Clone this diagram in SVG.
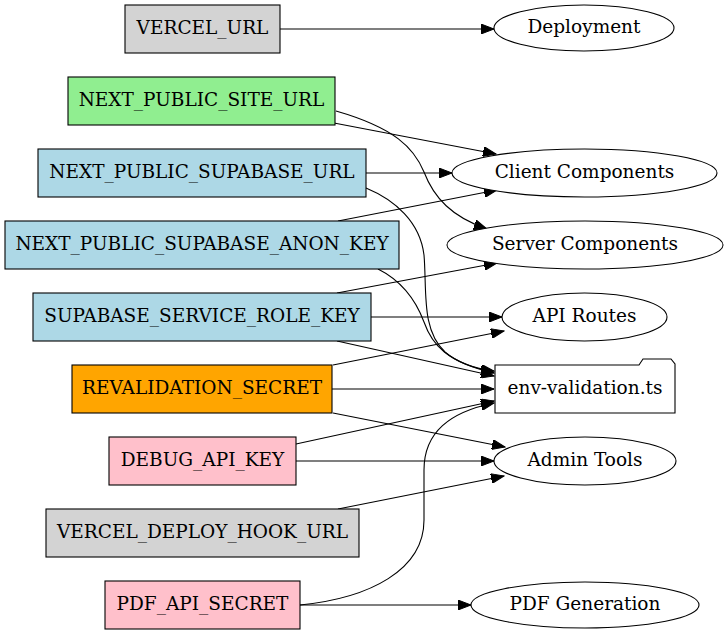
<svg xmlns="http://www.w3.org/2000/svg" width="727" height="635" viewBox="0 0 727 635">
<style>
text{font-family:"DejaVu Serif","Liberation Serif",serif;font-size:18.5px;text-anchor:middle;fill:#000}
.n rect,.n ellipse,.n path{stroke:#000;stroke-width:1.1}
.e path{fill:none;stroke:#000;stroke-width:1.1;marker-end:url(#ah)}
.grey{fill:#d3d3d3}.green{fill:#90ee90}.blue{fill:#add8e6}.orange{fill:#ffa500}.pink{fill:#ffc0cb}.white{fill:#fff}
</style>
<defs>
<marker id="ah" markerUnits="userSpaceOnUse" markerWidth="14" markerHeight="10" refX="13" refY="5" orient="auto">
<path d="M0,0 L13,5 L0,10 Z" fill="#000" stroke="#000" stroke-width="1"/>
</marker>
</defs>
<rect width="727" height="635" fill="#fff"/>
<g class="e" id="edges">
<path d="M280,29 L494,29"/>
<path d="M334,123 L496,154"/>
<path d="M336,111 C395,128 414,148 424,172 C434,198 452,217 487,229"/>
<path d="M366,173 L452,173"/>
<path d="M366,188 C395,200 420,222 424,255 C427,290 421,330 445,352 C460,365 478,369 494,371"/>
<path d="M338,221 L497,190"/>
<path d="M378,269 C400,280 415,298 424,322 C432,345 447,362 494,373"/>
<path d="M337,293 L497,263"/>
<path d="M371,317 L502,317"/>
<path d="M337,341 L494,376"/>
<path d="M333,365 L504,331"/>
<path d="M332,389 L494,389"/>
<path d="M333,413 L505,447"/>
<path d="M296,444 L494,401"/>
<path d="M296,461 L494,461"/>
<path d="M338,509 L504,476"/>
<path d="M300,605 C370,598 424,570 424,520 L424,470 C424,432 450,412 494,403"/>
<path d="M300,605 L471,605"/>
</g>
<g class="n" id="VERCEL_URL"><rect class="grey" x="125" y="5" width="155" height="48"/><text x="202.5" y="34">VERCEL_URL</text></g>
<g class="n" id="NEXT_PUBLIC_SITE_URL"><rect class="green" x="68" y="77" width="267" height="48"/><text x="201.5" y="106">NEXT_PUBLIC_SITE_URL</text></g>
<g class="n" id="NEXT_PUBLIC_SUPABASE_URL"><rect class="blue" x="38" y="149" width="328" height="48"/><text x="202" y="178">NEXT_PUBLIC_SUPABASE_URL</text></g>
<g class="n" id="NEXT_PUBLIC_SUPABASE_ANON_KEY"><rect class="blue" x="5" y="221" width="394" height="48"/><text x="202" y="250">NEXT_PUBLIC_SUPABASE_ANON_KEY</text></g>
<g class="n" id="SUPABASE_SERVICE_ROLE_KEY"><rect class="blue" x="33" y="293" width="338" height="48"/><text x="202" y="322">SUPABASE_SERVICE_ROLE_KEY</text></g>
<g class="n" id="REVALIDATION_SECRET"><rect class="orange" x="72" y="365" width="260" height="48"/><text x="202" y="394">REVALIDATION_SECRET</text></g>
<g class="n" id="DEBUG_API_KEY"><rect class="pink" x="109" y="437" width="187" height="48"/><text x="202.5" y="466">DEBUG_API_KEY</text></g>
<g class="n" id="VERCEL_DEPLOY_HOOK_URL"><rect class="grey" x="46" y="509" width="313" height="48"/><text x="202.5" y="538">VERCEL_DEPLOY_HOOK_URL</text></g>
<g class="n" id="PDF_API_SECRET"><rect class="pink" x="105" y="581" width="195" height="48"/><text x="202.5" y="610">PDF_API_SECRET</text></g>
<g class="n" id="Deployment"><ellipse class="white" cx="584" cy="28" rx="90" ry="23"/><text x="584" y="33">Deployment</text></g>
<g class="n" id="ClientComponents"><ellipse class="white" cx="584.5" cy="173" rx="132.5" ry="24"/><text x="584.5" y="178">Client Components</text></g>
<g class="n" id="ServerComponents"><ellipse class="white" cx="585" cy="245" rx="138" ry="24"/><text x="585" y="250">Server Components</text></g>
<g class="n" id="APIRoutes"><ellipse class="white" cx="584.5" cy="317" rx="82.5" ry="24"/><text x="584.5" y="322">API Routes</text></g>
<g class="n" id="env-validation"><path class="white" d="M495,365 L639,365 L643,359 L671,359 L675,364 L675,413 L495,413 Z"/><text x="585" y="394">env-validation.ts</text></g>
<g class="n" id="AdminTools"><ellipse class="white" cx="585" cy="461" rx="91" ry="24"/><text x="585" y="466">Admin Tools</text></g>
<g class="n" id="PDFGeneration"><ellipse class="white" cx="585" cy="605" rx="114" ry="23"/><text x="585" y="610">PDF Generation</text></g>
</svg>
